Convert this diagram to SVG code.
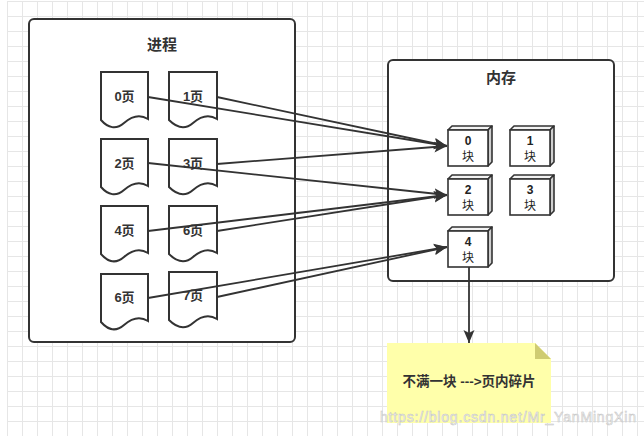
<svg xmlns="http://www.w3.org/2000/svg" width="644" height="436" viewBox="0 0 644 436">
<defs>
<pattern id="grid" x="7" y="1" width="15" height="15" patternUnits="userSpaceOnUse">
<path d="M0.5,0 V15 M0,0.5 H15" fill="none" stroke="#e6e6e6" stroke-width="1"/>
</pattern>
<marker id="arr" markerUnits="userSpaceOnUse" markerWidth="14" markerHeight="12" viewBox="0 0 14 12" refX="13" refY="6" orient="auto">
<path d="M0,0.5 L13,6 L0,11.5 L3,6 Z" fill="#333"/>
</marker>
<style>
.box{fill:#fff;stroke:#333;stroke-width:2}
.doc{fill:#fff;stroke:#333;stroke-width:2}
.title{font-family:"Liberation Sans","Noto Sans CJK SC",sans-serif;font-size:15px;font-weight:bold;fill:#333;text-anchor:middle}
.lbl{font-family:"Liberation Sans","Noto Sans CJK SC",sans-serif;font-size:13px;font-weight:bold;fill:#333;text-anchor:middle}
.cl{font-family:"Liberation Sans","Noto Sans CJK SC",sans-serif;font-size:12px;fill:#222;text-anchor:middle}
.cd{font-weight:bold}
.nt{font-family:"Liberation Sans","Noto Sans CJK SC",sans-serif;font-size:13.5px;font-weight:bold;fill:#333;text-anchor:middle}
.front{fill:#fff;stroke:#333;stroke-width:1.6}
.top{fill:#f2f2f2;stroke:#333;stroke-width:1.6;stroke-linejoin:round}
.side{fill:#cfcfcf;stroke:#333;stroke-width:1.6;stroke-linejoin:round}
.edge{fill:none;stroke:#333;stroke-width:1.8;marker-end:url(#arr)}
</style>
</defs>
<rect x="0" y="0" width="644" height="436" fill="#fff"/>
<rect x="7" y="1" width="637" height="435" fill="url(#grid)"/>

<g id="process">
<rect class="box" x="29" y="19" width="266" height="323" rx="5"/>
<text class="title" x="162" y="50">进程</text>
</g>
<g id="memory">
<rect class="box" x="388" y="60" width="226" height="221" rx="5"/>
<text class="title" x="501" y="83">内存</text>
</g>

<g id="page0"><path class="doc" d="M101,72 H148 V119 C140,114 132,116 124,123 C116,130 108,128 101,120 Z"/><text class="lbl" x="124.5" y="101">0页</text></g>
<g id="page1"><path class="doc" d="M169,72 H217 V119 C209,114 201,116 193,123 C185,130 177,128 169,120 Z"/><text class="lbl" x="193" y="101">1页</text></g>
<g id="page2"><path class="doc" d="M101,139 H148 V186 C140,181 132,183 124,190 C116,197 108,195 101,187 Z"/><text class="lbl" x="124.5" y="168">2页</text></g>
<g id="page3"><path class="doc" d="M169,139 H217 V186 C209,181 201,183 193,190 C185,197 177,195 169,187 Z"/><text class="lbl" x="193" y="168">3页</text></g>
<g id="page4"><path class="doc" d="M101,206 H148 V253 C140,248 132,250 124,257 C116,264 108,262 101,254 Z"/><text class="lbl" x="124.5" y="235">4页</text></g>
<g id="page6a"><path class="doc" d="M169,206 H217 V253 C209,248 201,250 193,257 C185,264 177,262 169,254 Z"/><text class="lbl" x="193" y="235">6页</text></g>
<g id="page6b"><path class="doc" d="M101,274 H148 V321 C140,316 132,318 124,325 C116,332 108,330 101,322 Z"/><text class="lbl" x="124.5" y="302">6页</text></g>
<g id="page7"><path class="doc" d="M169,272 H217 V319 C209,314 201,316 193,323 C185,330 177,328 169,320 Z"/><text class="lbl" x="193" y="300">7页</text></g>

<g id="block0">
<polygon class="top" points="448,130 452,126 492,126 488,130"/>
<polygon class="side" points="488,130 492,126 492,162 488,166"/>
<rect class="front" x="448" y="130" width="40" height="36"/>
<text class="cl cd" x="468" y="145">0</text><text class="cl" x="468" y="161">块</text>
</g>
<g id="block1">
<polygon class="top" points="510,130 514,126 554,126 550,130"/>
<polygon class="side" points="550,130 554,126 554,162 550,166"/>
<rect class="front" x="510" y="130" width="40" height="36"/>
<text class="cl cd" x="530" y="145">1</text><text class="cl" x="530" y="161">块</text>
</g>
<g id="block2">
<polygon class="top" points="448,179 452,175 492,175 488,179"/>
<polygon class="side" points="488,179 492,175 492,211 488,215"/>
<rect class="front" x="448" y="179" width="40" height="36"/>
<text class="cl cd" x="468" y="194">2</text><text class="cl" x="468" y="210">块</text>
</g>
<g id="block3">
<polygon class="top" points="510,179 514,175 554,175 550,179"/>
<polygon class="side" points="550,179 554,175 554,211 550,215"/>
<rect class="front" x="510" y="179" width="40" height="36"/>
<text class="cl cd" x="530" y="194">3</text><text class="cl" x="530" y="210">块</text>
</g>
<g id="block4">
<polygon class="top" points="448,231 452,227 492,227 488,231"/>
<polygon class="side" points="488,231 492,227 492,263 488,267"/>
<rect class="front" x="448" y="231" width="40" height="36"/>
<text class="cl cd" x="468" y="246">4</text><text class="cl" x="468" y="262">块</text>
</g>

<g id="note">
<path d="M387,343 H535 L551,359 V423 H387 Z" fill="#ffffaa"/>
<path d="M535,343 L551,359 H535 Z" fill="#cfcc72"/>
<text class="nt" x="469" y="386">不满一块 ---&gt;页内碎片</text>
</g>

<g id="connectors">
<line class="edge" x1="148" y1="97" x2="447" y2="146"/>
<line class="edge" x1="217" y1="97" x2="447" y2="146"/>
<line class="edge" x1="217" y1="164" x2="447" y2="146"/>
<line class="edge" x1="148" y1="163" x2="447" y2="195"/>
<line class="edge" x1="148" y1="231" x2="447" y2="195"/>
<line class="edge" x1="217" y1="231" x2="447" y2="195"/>
<line class="edge" x1="148" y1="298" x2="447" y2="247"/>
<line class="edge" x1="217" y1="297" x2="447" y2="247"/>
<line class="edge" x1="469" y1="267" x2="469" y2="343"/>
</g>

<text x="380" y="422" font-family="'Liberation Sans',sans-serif" font-size="14" fill="#f4f4f4" stroke="#c4c4c4" stroke-width="0.5" textLength="256">https://blog.csdn.net/Mr_YanMingXin</text>
</svg>
